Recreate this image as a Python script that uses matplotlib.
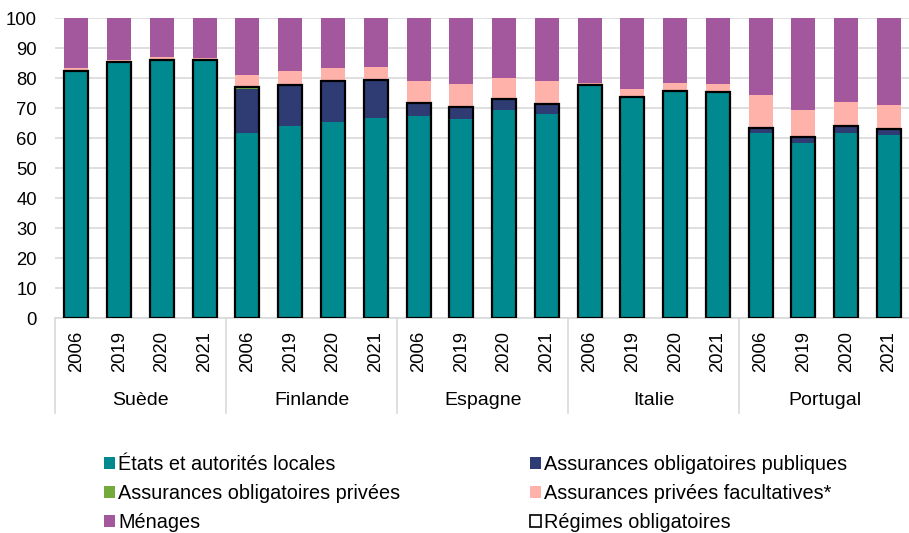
import numpy as np
import matplotlib.pyplot as plt
from matplotlib.patches import Patch
import matplotlib.transforms as mtransforms

plt.rcParams['font.family'] = ['Liberation Sans', 'DejaVu Sans']

pays = ['Suède', 'Finlande', 'Espagne', 'Italie', 'Portugal']
annees = ['2006', '2019', '2020', '2021']

# parts de la dépense (en %), 4 années par pays
etats = [82.3, 85.3, 86.2, 86.0,
         61.7, 64.0, 65.4, 66.8,
         67.4, 66.5, 69.4, 68.0,
         77.7, 73.8, 75.9, 75.4,
         61.9, 58.5, 61.9, 61.1]
oblig_publiques = [0.0, 0.0, 0.0, 0.0,
                   14.6, 13.7, 13.3, 12.4,
                   4.5, 3.8, 3.6, 3.3,
                   0.0, 0.0, 0.0, 0.0,
                   1.4, 2.0, 2.1, 1.9]
oblig_privees = [0.0, 0.0, 0.0, 0.0,
                 0.7, 0.0, 0.3, 0.2,
                 0.0, 0.0, 0.0, 0.0,
                 0.0, 0.0, 0.0, 0.0,
                 0.0, 0.0, 0.0, 0.0]
privees_facult = [1.0, 0.9, 0.8, 0.8,
                  4.1, 4.8, 4.4, 4.5,
                  7.1, 7.9, 7.2, 7.7,
                  0.8, 2.7, 2.5, 2.6,
                  11.0, 8.8, 8.0, 8.0]

etats = np.array(etats)
oblig_publiques = np.array(oblig_publiques)
oblig_privees = np.array(oblig_privees)
privees_facult = np.array(privees_facult)
regimes_oblig = etats + oblig_publiques + oblig_privees
menages = 100 - regimes_oblig - privees_facult

c_etats = '#00898F'
c_pub = '#2F3C73'
c_priv = '#72AB3C'
c_fac = '#FFB2A9'
c_men = '#A3579C'

fig = plt.figure(figsize=(9.09, 5.33), dpi=100)
ax = fig.add_axes([0.0605, 0.403, 0.941, 0.5627])

x = np.arange(len(etats))
w = 0.56
ax.bar(x, etats, w, color=c_etats, zorder=2)
b = etats.copy()
ax.bar(x, oblig_publiques, w, bottom=b, color=c_pub, zorder=2)
b = b + oblig_publiques
ax.bar(x, oblig_privees, w, bottom=b, color=c_priv, zorder=2)
b = b + oblig_privees
ax.bar(x, privees_facult, w, bottom=b, color=c_fac, zorder=2)
b = b + privees_facult
ax.bar(x, menages, w, bottom=b, color=c_men, zorder=2)
# contour des régimes obligatoires
ax.bar(x, regimes_oblig, w, fill=False, edgecolor='black', linewidth=1.6, zorder=3)

ax.set_xlim(-0.5, len(etats) - 0.5)
ax.set_ylim(0, 100)
ax.set_yticks(np.arange(0, 101, 10))
ax.yaxis.grid(True, color='#D9D9D9', linewidth=1.2, zorder=0)
ax.set_axisbelow(True)
for s in ['top', 'right', 'left']:
    ax.spines[s].set_visible(False)
ax.spines['bottom'].set_color('#D9D9D9')
ax.spines['bottom'].set_linewidth(1.2)

ax.set_xticks(x)
ax.set_xticklabels(annees * len(pays), rotation=90, va='top')
ax.tick_params(axis='both', length=0, labelsize=13.3, colors='black')
ax.tick_params(axis='y', pad=13)
ax.tick_params(axis='x', pad=9)

trans = mtransforms.blended_transform_factory(ax.transData, ax.transAxes)
for i, p in enumerate(pays):
    ax.text(4 * i + 1.5, -0.275, p, transform=trans, ha='center', va='center',
            fontsize=14)
for k in range(len(pays) + 1):
    ax.plot([4 * k - 0.5, 4 * k - 0.5], [0, -0.317], transform=trans,
            color='#D9D9D9', linewidth=1.2, clip_on=False)

handles = [Patch(facecolor=c_etats, label='États et autorités locales'),
           Patch(facecolor=c_priv, label='Assurances obligatoires privées'),
           Patch(facecolor=c_men, label='Ménages'),
           Patch(facecolor=c_pub, label='Assurances obligatoires publiques'),
           Patch(facecolor=c_fac, label='Assurances privées facultatives*'),
           Patch(facecolor='white', edgecolor='black', linewidth=1.2,
                 label='Régimes obligatoires')]
fig.legend(handles=handles, ncol=2, loc='upper left', bbox_to_anchor=(0.1145, 0.1455),
           bbox_transform=fig.transFigure, frameon=False, fontsize=14.3,
           handlelength=0.55, handleheight=0.55, handletextpad=0.15,
           labelspacing=0.5, columnspacing=6.55, borderpad=0, borderaxespad=0)

fig.savefig('out.png', dpi=100)
